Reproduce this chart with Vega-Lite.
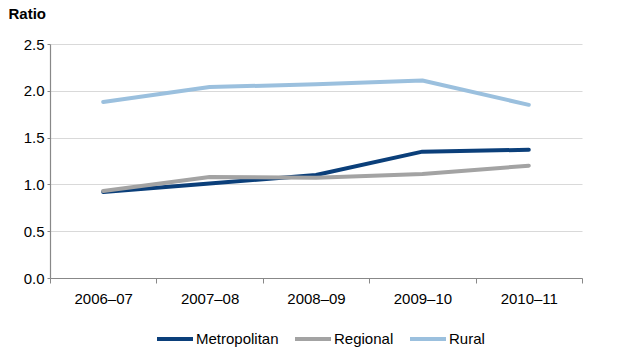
{
  "$schema": "https://vega.github.io/schema/vega-lite/v6.json",
  "width": 532,
  "height": 234,
  "autosize": "none",
  "padding": {"left": 50, "top": 44, "right": 47, "bottom": 82},
  "background": "white",
  "config": {
    "font": "Liberation Sans",
    "view": {"stroke": null}
  },
  "data": {
    "values": [
      {"year": "2006–07", "series": "Metropolitan", "value": 0.92},
      {"year": "2007–08", "series": "Metropolitan", "value": 1.01},
      {"year": "2008–09", "series": "Metropolitan", "value": 1.10},
      {"year": "2009–10", "series": "Metropolitan", "value": 1.35},
      {"year": "2010–11", "series": "Metropolitan", "value": 1.37},
      {"year": "2006–07", "series": "Regional", "value": 0.93},
      {"year": "2007–08", "series": "Regional", "value": 1.08},
      {"year": "2008–09", "series": "Regional", "value": 1.07},
      {"year": "2009–10", "series": "Regional", "value": 1.11},
      {"year": "2010–11", "series": "Regional", "value": 1.20},
      {"year": "2006–07", "series": "Rural", "value": 1.88},
      {"year": "2007–08", "series": "Rural", "value": 2.04},
      {"year": "2008–09", "series": "Rural", "value": 2.07},
      {"year": "2009–10", "series": "Rural", "value": 2.11},
      {"year": "2010–11", "series": "Rural", "value": 1.85}
    ]
  },
  "mark": {"type": "line", "strokeWidth": 4, "strokeCap": "round", "strokeJoin": "round"},
  "encoding": {
    "x": {
      "field": "year",
      "type": "ordinal",
      "bandPosition": 0.5,
      "scale": {"type": "band", "paddingInner": 0, "paddingOuter": 0},
      "axis": {
        "title": null,
        "labelAngle": 0,
        "tickBand": "extent",
        "labelFontSize": 15,
        "labelColor": "#000000",
        "labelPadding": 8,
        "tickSize": 5,
        "tickColor": "#888888",
        "domainColor": "#888888",
        "domainWidth": 1.2,
        "grid": false
      }
    },
    "y": {
      "field": "value",
      "type": "quantitative",
      "scale": {"domain": [0, 2.5]},
      "axis": {
        "values": [0, 0.5, 1, 1.5, 2, 2.5],
        "format": ".1f",
        "title": "Ratio",
        "titleAngle": 0,
        "titleAlign": "left",
        "titleBaseline": "alphabetic",
        "titleX": -42,
        "titleY": -26,
        "titleFontSize": 15,
        "titleFontWeight": "bold",
        "titleColor": "#000000",
        "labelFontSize": 15,
        "labelColor": "#000000",
        "labelPadding": 3,
        "tickSize": 3,
        "tickColor": "#888888",
        "domainColor": "#888888",
        "domainWidth": 1.2,
        "gridColor": "#d9d9d9",
        "gridWidth": 1
      }
    },
    "color": {
      "field": "series",
      "type": "nominal",
      "scale": {
        "domain": ["Metropolitan", "Regional", "Rural"],
        "range": ["#0b3f7a", "#a3a3a3", "#9bc0de"]
      },
      "legend": {
        "title": null,
        "orient": "none",
        "direction": "horizontal",
        "legendX": 105,
        "legendY": 275,
        "symbolType": "stroke",
        "symbolStrokeWidth": 4,
        "symbolSize": 1296,
        "labelFontSize": 15,
        "labelColor": "#000000",
        "labelOffset": 1,
        "columnPadding": 8
      }
    }
  }
}
